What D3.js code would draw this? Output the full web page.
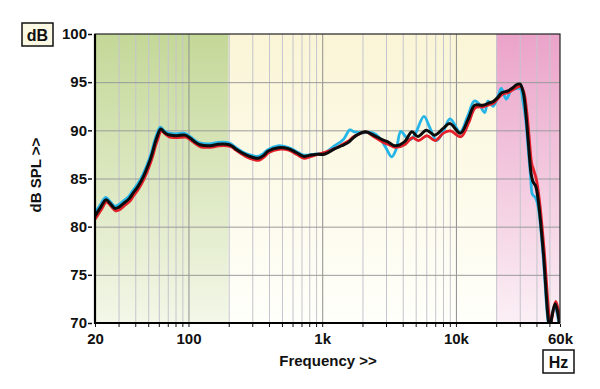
<!DOCTYPE html>
<html>
<head>
<meta charset="utf-8">
<script src="https://d3js.org/d3.v7.min.js"></script>
<style>
  body { margin: 0; background: #fff; }
  text { font-family: "Liberation Sans", Arial, sans-serif; font-weight: bold; fill: #111; }
  .grid line { stroke: #c4c4cc; stroke-width: 1; }
  .grid .major line { stroke: #8e8e8e; }
  .grid path { display: none; }
  .axis path { display: none; }
  .axis line { stroke: #111; }
  .curve { fill: none; stroke-width: 2.8; stroke-linejoin: round; stroke-linecap: round; }
</style>
</head>
<body>
<div id="chart"></div>
<script>
// frequency bands shaded in the background
var bands = [[20, 200], [200, 20000], [20000, 60000]];
var bandTop = ["#c4d898", "#faf5d6", "#eba3c9"];
var bandBottom = ["#f3f7e8", "#fffffb", "#fbf0f5"];

var dbTicks = [70, 75, 80, 85, 90, 95, 100];
var gridFreqs = [30, 40, 50, 60, 70, 80, 90, 100, 200, 300, 400, 500, 600, 700, 800, 900,
  1000, 2000, 3000, 4000, 5000, 6000, 7000, 8000, 9000, 10000, 20000, 30000, 40000, 50000];
var majorFreqs = [100, 1000, 10000];
var freqLabels = {20: "20", 100: "100", 1000: "1k", 10000: "10k", 60000: "60k"};

// [Hz, dB]
var blackCurve = [[20, 81.1], [22, 82.0], [24.2, 82.8], [26, 82.4], [28.2, 81.9], [30, 82.0],
  [32.6, 82.4], [36, 82.9], [38.6, 83.5], [42, 84.2], [46, 85.2], [50, 86.4], [53, 87.4],
  [56, 88.6], [58.5, 89.4], [62, 90.15], [66, 89.8], [70.5, 89.55], [81, 89.45], [94.5, 89.5],
  [102.7, 89.2], [112, 88.8], [122, 88.5], [145, 88.4], [167, 88.55], [193, 88.55], [210, 88.4],
  [224, 88.1], [265, 87.5], [300, 87.2], [333, 87.1], [365, 87.4], [395, 87.85], [470, 88.2],
  [557, 88.1], [640, 87.7], [724, 87.3], [800, 87.4], [886, 87.5], [1052, 87.55], [1245, 88.1],
  [1400, 88.4], [1571, 88.75], [1700, 89.2], [1817, 89.5], [2102, 89.85], [2414, 89.5],
  [2838, 89.0], [3100, 88.8], [3485, 88.4], [4121, 88.8], [4686, 89.85], [5197, 89.35],
  [6006, 90.0], [6942, 89.5], [8030, 90.2], [9000, 90.7], [10800, 89.7], [12300, 91.1],
  [13800, 92.6], [15900, 92.6], [17400, 92.8], [19000, 93.0], [20500, 93.4], [22000, 93.9],
  [24500, 94.1], [26500, 94.4], [28500, 94.75], [30200, 94.8], [31900, 93.9], [33500, 91.4],
  [34800, 88.7], [36500, 85.5], [37600, 84.7], [39500, 84.2], [41500, 82.4], [45100, 77.2],
  [49100, 70.3], [50500, 69.5], [52100, 70.6], [55200, 72.0], [57800, 71.0], [60000, 69.5]];

var redCurve = [[20, 80.9], [22, 81.8], [24.2, 82.6], [26, 82.2], [28.2, 81.7], [30, 81.8],
  [32.6, 82.2], [36, 82.7], [38.6, 83.3], [42, 84.0], [46, 85.0], [50, 86.2], [53, 87.2],
  [56, 88.4], [58.5, 89.2], [62, 90.0], [66, 89.7], [70.5, 89.4], [81, 89.3], [94.5, 89.35],
  [102.7, 89.05], [112, 88.65], [122, 88.35], [145, 88.3], [167, 88.45], [193, 88.45], [210, 88.3],
  [224, 88.0], [265, 87.35], [300, 87.05], [333, 86.95], [365, 87.3], [395, 87.75], [470, 88.1],
  [557, 88.0], [640, 87.55], [724, 87.15], [800, 87.3], [886, 87.5], [1052, 87.8], [1245, 88.2],
  [1400, 88.6], [1571, 89.0], [1700, 89.4], [1817, 89.6], [2102, 89.9], [2414, 89.4],
  [2838, 88.8], [3100, 88.6], [3485, 88.3], [4121, 88.6], [4686, 89.3], [5197, 89.0],
  [6006, 89.5], [6942, 89.0], [8030, 89.8], [9000, 90.0], [10800, 89.4], [12300, 90.8],
  [13800, 92.4], [15900, 92.5], [17400, 92.7], [19000, 92.9], [20500, 93.4], [22000, 93.8],
  [24500, 94.0], [26500, 94.3], [28500, 94.55], [30200, 94.6], [31900, 94.0], [33500, 92.0],
  [34800, 89.6], [36500, 86.6], [37600, 86.0], [39500, 85.0], [41500, 83.0], [45100, 77.8],
  [49100, 71.0], [50500, 70.0], [52100, 70.9], [55200, 72.3], [57800, 71.4], [60000, 70.0]];

var blueCurve = [[20, 81.3], [22, 82.2], [24.2, 83.0], [26, 82.6], [28.2, 82.1], [30, 82.2],
  [32.6, 82.6], [36, 83.1], [38.6, 83.7], [42, 84.4], [46, 85.4], [50, 86.6], [53, 87.6],
  [56, 88.8], [58.5, 89.6], [62, 90.3], [66, 89.95], [70.5, 89.7], [81, 89.6], [94.5, 89.65],
  [102.7, 89.35], [112, 88.95], [122, 88.65], [145, 88.55], [167, 88.7], [193, 88.7], [210, 88.55],
  [224, 88.25], [265, 87.6], [300, 87.35], [333, 87.25], [365, 87.55], [395, 87.95], [470, 88.35],
  [557, 88.2], [640, 87.8], [724, 87.4], [800, 87.4], [886, 87.5], [1052, 87.6], [1200, 88.2],
  [1450, 89.0], [1620, 90.0], [1750, 89.8], [2000, 89.7], [2400, 89.7], [2700, 89.2],
  [3000, 88.2], [3330, 87.2], [3600, 88.0], [3900, 89.85], [4300, 89.2], [4600, 89.0],
  [5000, 89.6], [5800, 91.4], [6400, 90.3], [7200, 88.9], [8000, 89.7], [9100, 91.15],
  [10800, 89.8], [12300, 91.4], [13800, 93.0], [14800, 92.8], [16500, 91.8], [17500, 93.0],
  [19100, 92.45], [21000, 93.7], [22000, 94.3], [24000, 93.2], [26000, 94.1], [28500, 94.3],
  [30500, 94.3], [32000, 92.9], [33500, 91.0], [34800, 88.3], [36500, 85.0], [37600, 83.3],
  [39500, 83.0], [41500, 82.0], [45100, 77.0], [49100, 70.2], [50500, 69.4], [52100, 70.4],
  [55200, 71.8], [57800, 70.8], [60000, 69.4]];

var width = 600, height = 389;
var plot = {left: 95, right: 560, top: 34, bottom: 323};

var svg = d3.select("#chart").append("svg").attr("width", width).attr("height", height);

var x = d3.scaleLog().domain([20, 60000]).range([plot.left, plot.right]);
var y = d3.scaleLinear().domain([70, 100]).range([plot.bottom, plot.top]);

var defs = svg.append("defs");
bands.forEach(function(b, i) {
  var gr = defs.append("linearGradient").attr("id", "band" + i)
    .attr("x1", 0).attr("y1", 0).attr("x2", 0).attr("y2", 1);
  gr.append("stop").attr("offset", "0%").attr("stop-color", bandTop[i]);
  gr.append("stop").attr("offset", "100%").attr("stop-color", bandBottom[i]);
});
defs.append("clipPath").attr("id", "clip").append("rect")
  .attr("x", plot.left).attr("y", plot.top)
  .attr("width", plot.right - plot.left).attr("height", plot.bottom - plot.top);

svg.selectAll(".band")
  .data(bands)
  .enter()
  .append("rect")
  .attr("class", "band")
  .attr("x", function(d) { return x(d[0]); })
  .attr("width", function(d) { return x(d[1]) - x(d[0]); })
  .attr("y", plot.top)
  .attr("height", plot.bottom - plot.top)
  .attr("fill", function(d, i) { return "url(#band" + i + ")"; });

// grid
var gx = svg.append("g")
  .attr("class", "grid")
  .attr("transform", "translate(0," + plot.bottom + ")")
  .call(d3.axisBottom(x).tickValues(gridFreqs).tickSize(-(plot.bottom - plot.top)).tickFormat(""));
gx.selectAll(".tick").classed("major", function(d) { return majorFreqs.indexOf(d) >= 0; });

svg.append("g")
  .attr("class", "grid")
  .attr("transform", "translate(" + plot.left + ",0)")
  .call(d3.axisLeft(y).tickValues(dbTicks.slice(1, -1)).tickSize(-(plot.right - plot.left)).tickFormat(""))
  .selectAll("line").style("stroke", "#9a9a9a");

// curves
var line = d3.line()
  .x(function(d) { return x(d[0]); })
  .y(function(d) { return y(d[1]); })
  .curve(d3.curveCatmullRom);

var curves = svg.append("g").attr("clip-path", "url(#clip)");
curves.append("path").datum(blueCurve).attr("class", "curve").attr("stroke", "#25b5e6")
  .attr("transform", "translate(-0.4,-0.4)").attr("d", line);
curves.append("path").datum(redCurve).attr("class", "curve").attr("stroke", "#e3202a")
  .attr("transform", "translate(0.6,0.6)").attr("d", line);
curves.append("path").datum(blackCurve).attr("class", "curve").attr("stroke", "#0d0d0d")
  .style("stroke-width", 3).attr("d", line);

// frame
svg.append("rect")
  .attr("x", plot.left).attr("y", plot.top)
  .attr("width", plot.right - plot.left).attr("height", plot.bottom - plot.top)
  .attr("fill", "none").attr("stroke", "#222").attr("stroke-width", 1.2);
svg.append("path")
  .attr("d", "M" + plot.left + "," + plot.top + "V" + plot.bottom + "H" + plot.right)
  .attr("fill", "none").attr("stroke", "#000").attr("stroke-width", 2.2);

// axes
var xAxis = svg.append("g")
  .attr("class", "axis")
  .attr("transform", "translate(0," + (plot.bottom + 1) + ")")
  .call(d3.axisBottom(x).tickValues([20].concat(gridFreqs, [60000])).tickSize(3).tickPadding(6)
    .tickFormat(function(d) { return freqLabels[d] || ""; }));
xAxis.selectAll("text").style("font-size", "15px");

var yAxis = svg.append("g")
  .attr("class", "axis")
  .attr("transform", "translate(" + plot.left + ",0)")
  .call(d3.axisLeft(y).tickValues(dbTicks).tickSize(6).tickPadding(3));
yAxis.selectAll("line").attr("x1", -3).attr("x2", -7).style("stroke-width", 1.5);
yAxis.selectAll("text").attr("x", -8).style("font-size", "15px");

svg.append("text")
  .attr("x", 328).attr("y", 366)
  .attr("text-anchor", "middle")
  .style("font-size", "15px")
  .text("Frequency >>");

svg.append("text")
  .attr("transform", "translate(41,175) rotate(-90)")
  .attr("text-anchor", "middle")
  .style("font-size", "15px")
  .text("dB SPL >>");

// unit boxes
var units = [
  {label: "dB", x: 22, y: 23, w: 31, h: 23, fill: "#fbf9e4"},
  {label: "Hz", x: 543, y: 350, w: 31, h: 23, fill: "#ffffff"}
];
var ub = svg.selectAll(".unit").data(units).enter().append("g").attr("class", "unit");
ub.append("rect")
  .attr("x", function(d) { return d.x; }).attr("y", function(d) { return d.y; })
  .attr("width", function(d) { return d.w; }).attr("height", function(d) { return d.h; })
  .attr("fill", function(d) { return d.fill; })
  .attr("stroke", "#111").attr("stroke-width", 1.5);
ub.append("text")
  .attr("x", function(d) { return d.x + d.w / 2; })
  .attr("y", function(d) { return d.y + d.h / 2 + 6; })
  .attr("text-anchor", "middle")
  .style("font-size", "16px")
  .text(function(d) { return d.label; });
</script>
</body>
</html>
